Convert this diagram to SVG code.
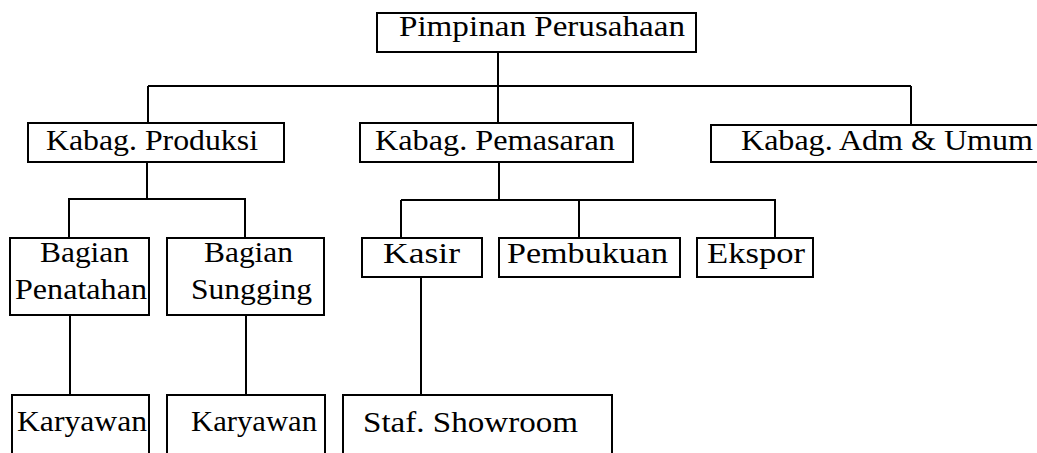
<svg xmlns="http://www.w3.org/2000/svg" width="1037" height="453" viewBox="0 0 1037 453">
<style>
.box{fill:#fff;stroke:#000;stroke-width:2}
.t{font-family:"Liberation Serif","Times New Roman",serif;font-size:29px;fill:#000}
.c{fill:none;stroke:#000;stroke-width:2}
</style>
<rect width="1037" height="453" fill="#fff"/>
<g id="connectors">
<path class="c" d="M498,52 V123"/>
<path class="c" d="M148,86 H911"/>
<path class="c" d="M148,86 V123 M911,86 V125"/>
<path class="c" d="M147,162 V199 M68,199 H246 M69,199 V238 M245,199 V238"/>
<path class="c" d="M499,162 V200 M401,200 H776 M401,200 V238 M579,200 V238 M775,200 V238"/>
<path class="c" d="M70,315 V395 M246,315 V395 M421,277 V395"/>
</g>
<g id="n-pimpinan"><rect class="box" x="377" y="13" width="319" height="39"/><text class="t" x="399" y="36" textLength="286" lengthAdjust="spacingAndGlyphs">Pimpinan Perusahaan</text></g>
<g id="n-produksi"><rect class="box" x="28" y="123" width="256" height="39"/><text class="t" x="46" y="150" textLength="212" lengthAdjust="spacingAndGlyphs">Kabag. Produksi</text></g>
<g id="n-pemasaran"><rect class="box" x="360" y="123" width="273" height="39"/><text class="t" x="375" y="150" textLength="240" lengthAdjust="spacingAndGlyphs">Kabag. Pemasaran</text></g>
<g id="n-adm"><rect class="box" x="711" y="125" width="330" height="37"/><text class="t" x="741" y="150" textLength="292" lengthAdjust="spacingAndGlyphs">Kabag. Adm &amp; Umum</text></g>
<g id="n-penatahan"><rect class="box" x="10" y="238" width="139" height="77"/><text class="t" x="40" y="262" textLength="89" lengthAdjust="spacingAndGlyphs">Bagian</text><text class="t" x="15" y="299" textLength="132" lengthAdjust="spacingAndGlyphs">Penatahan</text></g>
<g id="n-sungging"><rect class="box" x="167" y="238" width="157" height="77"/><text class="t" x="204" y="262" textLength="89" lengthAdjust="spacingAndGlyphs">Bagian</text><text class="t" x="191" y="299" textLength="121" lengthAdjust="spacingAndGlyphs">Sungging</text></g>
<g id="n-kasir"><rect class="box" x="362" y="238" width="120" height="39"/><text class="t" x="383" y="263" textLength="77" lengthAdjust="spacingAndGlyphs">Kasir</text></g>
<g id="n-pembukuan"><rect class="box" x="499" y="238" width="181" height="39"/><text class="t" x="507" y="263" textLength="161" lengthAdjust="spacingAndGlyphs">Pembukuan</text></g>
<g id="n-ekspor"><rect class="box" x="697" y="238" width="116" height="39"/><text class="t" x="707" y="263" textLength="98" lengthAdjust="spacingAndGlyphs">Ekspor</text></g>
<g id="n-karyawan1"><rect class="box" x="12" y="395" width="137" height="62"/><text class="t" x="17" y="431" textLength="130" lengthAdjust="spacingAndGlyphs">Karyawan</text></g>
<g id="n-karyawan2"><rect class="box" x="167" y="395" width="158" height="62"/><text class="t" x="191" y="431" textLength="126" lengthAdjust="spacingAndGlyphs">Karyawan</text></g>
<g id="n-staf"><rect class="box" x="343" y="395" width="269" height="62"/><text class="t" x="363" y="432" textLength="215" lengthAdjust="spacingAndGlyphs">Staf. Showroom</text></g>
</svg>
